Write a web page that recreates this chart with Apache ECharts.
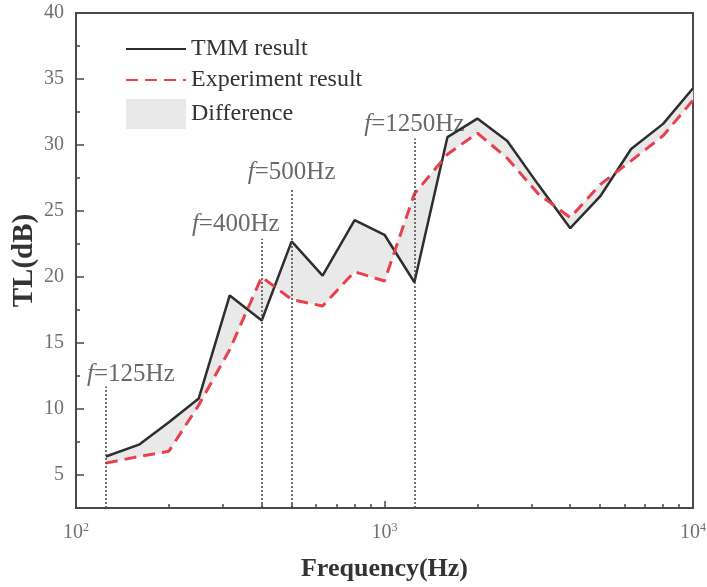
<!DOCTYPE html>
<html>
<head>
<meta charset="utf-8">
<script src="https://cdn.jsdelivr.net/npm/echarts@6/dist/echarts.min.js"></script>
<style>
  html, body { margin: 0; padding: 0; background: #fff; }
  #chart { width: 707px; height: 587px; }
</style>
</head>
<body>
<div id="chart"></div>
<script>
// 1/3 octave band centre frequencies (Hz)
const freq = [125, 160, 200, 250, 315, 400, 500, 630, 800, 1000, 1250, 1600, 2000, 2500, 3150, 4000, 5000, 6300, 8000, 10000];
// TL (dB)
const tmm = [6.4, 7.3, 9.0, 10.8, 18.6, 16.7, 22.7, 20.1, 24.3, 23.2, 19.6, 30.6, 32.0, 30.3, 27.0, 23.7, 26.1, 29.7, 31.6, 34.3];
const experiment = [5.9, 6.4, 6.8, 10.3, 14.5, 20.0, 18.3, 17.8, 20.4, 19.7, 26.3, 29.3, 30.9, 29.0, 26.3, 24.5, 27.0, 28.8, 30.7, 33.4];
// marked frequencies and how high their dotted line reaches
const markFreq = [125, 400, 500, 1250];
const markTop = [11.7, 22.9, 26.7, 30.5];
// ticks
const yTicks = [5, 10, 15, 20, 25, 30, 35, 40];
const yMinorTicks = [7.5, 12.5, 17.5, 22.5, 27.5, 32.5, 37.5];
const xTicks = [100, 1000, 10000];
const xMinorTicks = [200, 300, 400, 500, 600, 700, 800, 900, 2000, 3000, 4000, 5000, 6000, 7000, 8000, 9000];

const serif = '"Liberation Serif", "DejaVu Serif", serif';
const axisColor = '#4a4a4a';
const labelColor = '#707070';

const chart = echarts.init(document.getElementById('chart'));

const expOf = { 100: '2', 1000: '3', 10000: '4' };

// label offsets for the f= annotations (pixels)
const markOffset = [[25, 4], [-26, 2], [0, 0], [0, 3]];

const option = {
  animation: false,
  backgroundColor: '#fff',
  grid: {
    left: 76, right: 14, top: 13, bottom: 79,
    outerBoundsMode: 'none', containLabel: false,
    show: true, borderColor: axisColor, borderWidth: 2, backgroundColor: 'transparent'
  },
  legend: {
    left: 120, top: 32, orient: 'vertical',
    itemWidth: 60, itemHeight: 30, itemGap: 7,
    textStyle: { fontFamily: serif, fontSize: 24, color: '#333' },
    data: [
      { name: 'TMM result', itemStyle: { opacity: 0 } },
      { name: 'Experiment result', itemStyle: { opacity: 0 } },
      { name: 'Difference', icon: 'rect' }
    ]
  },
  xAxis: [{
    type: 'log', logBase: 10, min: 100, max: 10000,
    name: 'Frequency(Hz)', nameLocation: 'middle', nameGap: 48,
    nameTextStyle: { fontFamily: serif, fontSize: 26, fontWeight: 'bold', color: '#333' },
    axisLine: { lineStyle: { color: axisColor, width: 2 } },
    axisTick: { inside: true, length: 7, customValues: xTicks, lineStyle: { color: axisColor, width: 1.5 } },
    axisLabel: {
      customValues: xTicks, margin: 14,
      fontFamily: serif, fontSize: 20, color: labelColor,
      formatter: v => '10{sup|' + expOf[Math.round(v)] + '}',
      rich: { sup: { fontFamily: serif, fontSize: 12, color: labelColor, verticalAlign: 'top', padding: [0, 0, 10, 0] } }
    },
    splitLine: { show: false }
  }, {
    type: 'log', logBase: 10, min: 100, max: 10000, position: 'bottom',
    axisLine: { show: false },
    axisTick: { inside: true, length: 4, customValues: xMinorTicks, lineStyle: { color: axisColor, width: 1.5 } },
    axisLabel: { show: false },
    splitLine: { show: false }
  }],
  yAxis: [{
    type: 'value', min: 2.5, max: 40,
    name: 'TL(dB)', nameLocation: 'middle', nameGap: 37, nameMoveOverlap: false,
    nameTextStyle: { fontFamily: serif, fontSize: 29, fontWeight: 'bold', color: '#333' },
    axisLine: { show: true, lineStyle: { color: axisColor, width: 2 } },
    axisTick: { show: true, inside: true, length: 8, customValues: yTicks, lineStyle: { color: axisColor, width: 1.5 } },
    axisLabel: { customValues: yTicks, margin: 12, fontFamily: serif, fontSize: 20, color: labelColor },
    splitLine: { show: false }
  }, {
    type: 'value', min: 2.5, max: 40, position: 'left',
    axisLine: { show: false },
    axisTick: { show: true, inside: true, length: 4, customValues: yMinorTicks, lineStyle: { color: axisColor, width: 1.5 } },
    axisLabel: { show: false },
    splitLine: { show: false }
  }],
  series: [
    {
      name: 'Difference',
      type: 'custom',
      z: 1,
      itemStyle: { color: '#e9e9e9' },
      data: freq.map((f, i) => [f, tmm[i], experiment[i]]),
      renderItem: (params, api) => {
        const i = params.dataIndex;
        if (i >= freq.length - 1) return null;
        const pts = [
          api.coord([freq[i], tmm[i]]),
          api.coord([freq[i + 1], tmm[i + 1]]),
          api.coord([freq[i + 1], experiment[i + 1]]),
          api.coord([freq[i], experiment[i]])
        ];
        return {
          type: 'polygon',
          shape: { points: pts },
          style: { fill: '#e9e9e9', stroke: '#e9e9e9', lineWidth: 0.6 }
        };
      }
    },
    {
      name: 'markers',
      type: 'scatter',
      z: 2,
      symbolSize: 0,
      silent: true,
      data: markFreq.map((f, i) => ({
        value: [f, markTop[i]],
        label: { offset: markOffset[i] }
      })),
      label: {
        show: true, position: 'top', distance: 4,
        formatter: p => '{i|f}{t|=' + p.value[0] + 'Hz}',
        rich: {
          i: { fontFamily: serif, fontStyle: 'italic', fontSize: 25, color: '#444' },
          t: { fontFamily: serif, fontSize: 25, color: '#444' }
        }
      },
      markLine: {
        silent: true,
        symbol: 'none',
        label: { show: false },
        lineStyle: { type: [2, 2], color: '#444', width: 1.5 },
        data: markFreq.map((f, i) => [{ coord: [f, 2.5] }, { coord: [f, markTop[i]] }])
      }
    },
    {
      name: 'TMM result',
      type: 'line',
      z: 3,
      symbol: 'none',
      data: freq.map((f, i) => [f, tmm[i]]),
      lineStyle: { color: '#2e2e2e', width: 2.5 },
      itemStyle: { color: '#2e2e2e' }
    },
    {
      name: 'Experiment result',
      type: 'line',
      z: 4,
      symbol: 'none',
      data: freq.map((f, i) => [f, experiment[i]]),
      lineStyle: { color: '#e8404f', width: 3, type: [12, 7] },
      itemStyle: { color: '#e8404f' }
    }
  ]
};

chart.setOption(option);
</script>
</body>
</html>
